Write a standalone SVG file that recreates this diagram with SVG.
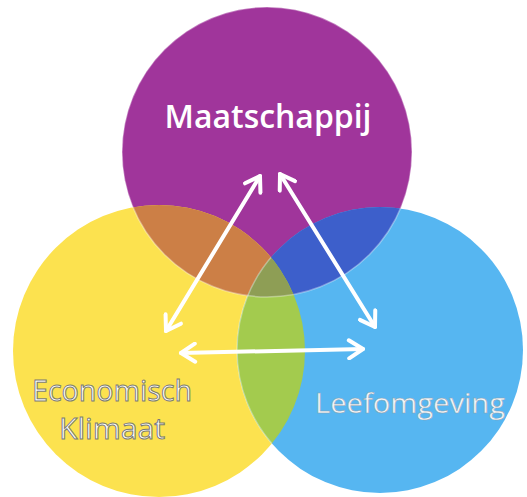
<svg xmlns="http://www.w3.org/2000/svg" width="527" height="497" viewBox="0 0 527 497">
<style>
.arrow{fill:none;stroke:#ffffff;stroke-width:4;stroke-linecap:round;stroke-linejoin:round}
.head{fill:none;stroke:#ffffff;stroke-width:4;stroke-linecap:round;stroke-linejoin:round}
.lbl{font-family:"Open Sans","Liberation Sans",sans-serif}
.edge{fill:none;stroke:#ffffff;stroke-opacity:0.35;stroke-width:1.5}
.outl{fill:#ffffff;stroke:#7c7c72;stroke-width:1}
</style>
<defs>
<clipPath id="cpP"><circle cx="267" cy="152" r="145"/></clipPath>
<clipPath id="cpY"><circle cx="159" cy="351" r="146"/></clipPath>
<clipPath id="cpB"><circle cx="380" cy="350" r="143"/></clipPath>
<marker id="ah" viewBox="0 0 22 22" refX="18" refY="11" markerWidth="22" markerHeight="22" markerUnits="userSpaceOnUse" orient="auto-start-reverse">
<path d="M4,2 L18,11 L4,20" class="head"/>
</marker>
</defs>
<rect width="527" height="497" fill="#ffffff"/>
<g id="maatschappij">
<circle cx="267" cy="152" r="145" fill="#A0359B"/>
</g>
<g id="economisch-klimaat">
<circle cx="159" cy="351" r="146" fill="#FCE24F"/>
</g>
<g id="leefomgeving">
<circle cx="380" cy="350" r="143" fill="#56B6F1"/>
</g>
<g id="overlaps">
<circle cx="159" cy="351" r="146" fill="#CC7F46" clip-path="url(#cpP)"/>
<circle cx="380" cy="350" r="143" fill="#3D5FCB" clip-path="url(#cpP)"/>
<circle cx="159" cy="351" r="146" fill="#A3CB4E" clip-path="url(#cpB)"/>
<g clip-path="url(#cpP)"><circle cx="159" cy="351" r="146" fill="#8E9E55" clip-path="url(#cpB)"/></g>
<circle cx="267" cy="152" r="145" class="edge"/>
<circle cx="380" cy="350" r="143" class="edge" clip-path="url(#cpY)"/>
</g>
<g id="labels">
<text x="268" y="128" class="lbl" font-size="32" font-weight="600" fill="#ffffff" text-anchor="middle" textLength="207" lengthAdjust="spacingAndGlyphs">Maatschappij</text>
<text x="112" y="401" class="lbl outl" font-size="29" text-anchor="middle" textLength="160" lengthAdjust="spacingAndGlyphs">Economisch</text>
<text x="112" y="439" class="lbl outl" font-size="29" text-anchor="middle" textLength="106" lengthAdjust="spacingAndGlyphs">Klimaat</text>
<text x="410" y="413" class="lbl" font-size="28" fill="#f4f6f8" stroke="#8aa0b0" stroke-width="0.5" text-anchor="middle" textLength="190" lengthAdjust="spacingAndGlyphs">Leefomgeving</text>
</g>
<g id="connectors">
<line x1="166" y1="331" x2="260" y2="176" class="arrow" marker-start="url(#ah)" marker-end="url(#ah)"/>
<line x1="280" y1="174" x2="375" y2="327" class="arrow" marker-start="url(#ah)" marker-end="url(#ah)"/>
<line x1="181" y1="353" x2="363" y2="349" class="arrow" marker-start="url(#ah)" marker-end="url(#ah)"/>
</g>
</svg>
